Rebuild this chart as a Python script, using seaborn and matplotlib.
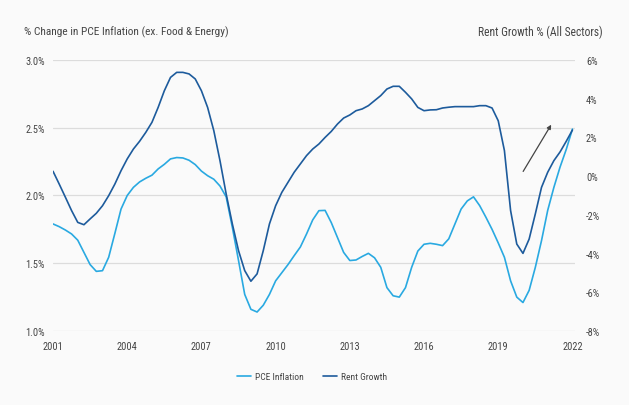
import seaborn as sns
import pandas as pd
import matplotlib.pyplot as plt

# quarterly readings taken off the chart
years = [2001.00, 2001.25, 2001.50, 2001.75, 2002.00, 2002.25, 2002.50, 2002.75,
         2003.00, 2003.25, 2003.50, 2003.75, 2004.00, 2004.25, 2004.50, 2004.75,
         2005.00, 2005.25, 2005.50, 2005.75, 2006.00, 2006.25, 2006.50, 2006.75,
         2007.00, 2007.25, 2007.50, 2007.75, 2008.00, 2008.25, 2008.50, 2008.75,
         2009.00, 2009.25, 2009.50, 2009.75, 2010.00, 2010.25, 2010.50, 2010.75,
         2011.00, 2011.25, 2011.50, 2011.75, 2012.00, 2012.25, 2012.50, 2012.75,
         2013.00, 2013.25, 2013.50, 2013.75, 2014.00, 2014.25, 2014.50, 2014.75,
         2015.00, 2015.25, 2015.50, 2015.75, 2016.00, 2016.25, 2016.50, 2016.75,
         2017.00, 2017.25, 2017.50, 2017.75, 2018.00, 2018.25, 2018.50, 2018.75,
         2019.00, 2019.25, 2019.50, 2019.75, 2020.00, 2020.25, 2020.50, 2020.75,
         2021.00, 2021.25, 2021.50, 2021.75, 2022.00]
pce = [1.79, 1.77, 1.745, 1.716, 1.67, 1.58, 1.49, 1.44,
       1.445, 1.544, 1.72, 1.90, 2.00, 2.06, 2.10, 2.127,
       2.15, 2.196, 2.23, 2.27, 2.28, 2.277, 2.26, 2.228,
       2.18, 2.146, 2.12, 2.07, 1.99, 1.765, 1.52, 1.27,
       1.16, 1.14, 1.19, 1.27, 1.37, 1.43, 1.49, 1.556,
       1.62, 1.716, 1.82, 1.888, 1.89, 1.80, 1.69, 1.58,
       1.52, 1.524, 1.55, 1.573, 1.54, 1.47, 1.32, 1.26,
       1.25, 1.32, 1.47, 1.59, 1.64, 1.647, 1.64, 1.63,
       1.68, 1.79, 1.90, 1.96, 1.99, 1.925, 1.84, 1.75,
       1.65, 1.544, 1.37, 1.25, 1.21, 1.30, 1.47, 1.667,
       1.89, 2.06, 2.21, 2.34, 2.49]
rent = [0.25, -0.41, -1.09, -1.78, -2.39, -2.51, -2.21, -1.92,
        -1.53, -1.01, -0.41, 0.28, 0.89, 1.40, 1.80, 2.26,
        2.78, 3.55, 4.41, 5.10, 5.36, 5.36, 5.28, 5.02,
        4.41, 3.55, 2.35, 0.80, -0.92, -2.47, -3.85, -4.88,
        -5.43, -5.05, -3.85, -2.47, -1.53, -0.84, -0.32, 0.20,
        0.63, 1.06, 1.40, 1.66, 2.00, 2.31, 2.69, 3.00,
        3.16, 3.38, 3.47, 3.64, 3.90, 4.16, 4.50, 4.64,
        4.64, 4.33, 3.99, 3.55, 3.38, 3.42, 3.43, 3.52,
        3.56, 3.59, 3.59, 3.59, 3.59, 3.64, 3.64, 3.52,
        2.86, 1.32, -1.78, -3.51, -3.99, -3.25, -1.95, -0.58,
        0.20, 0.80, 1.25, 1.80, 2.38]

left_ticks = [1.0, 1.5, 2.0, 2.5, 3.0]
right_ticks = [-8, -6, -4, -2, 0, 2, 4, 6]
year_ticks = [2001, 2004, 2007, 2010, 2013, 2016, 2019, 2022]

df = pd.DataFrame({"Year": years, "PCE": pce, "Rent": rent})

sns.set_theme(style="white")
plt.rcParams['font.family'] = ['Roboto Condensed', 'Roboto', 'DejaVu Sans']
bg = "#fafafa"
txt = "#454545"
light = "#29a9e1"
dark = "#1d5b9c"

fig = plt.figure(figsize=(6.29, 4.06), dpi=100, facecolor=bg)
ax = fig.add_axes([0.0843, 0.1823, 0.8297, 0.6675])
ax.set_facecolor(bg)
ax2 = ax.twinx()

sns.lineplot(data=df, x="Year", y="PCE", ax=ax, color=light, linewidth=1.2,
             label="PCE Inflation", legend=False)
sns.lineplot(data=df, x="Year", y="Rent", ax=ax2, color=dark, linewidth=1.2,
             label="Rent Growth", legend=False)
for a in (ax, ax2):
    for ln in a.get_lines():
        ln.set_solid_joinstyle("round")

ax.set_xlim(2001, 2022.1)
ax.set_ylim(1.0, 3.0)
ax2.set_ylim(-8, 6)
ax.set_yticks(left_ticks)
ax.set_yticklabels([f"{v:.1f}%" for v in left_ticks])
ax2.set_yticks(right_ticks)
ax2.set_yticklabels([f"{v}%" for v in right_ticks])
ax.set_xticks(year_ticks)
ax.set_xticklabels([str(y) for y in year_ticks])

ax.grid(axis="y", color="#dcdcdc", linewidth=0.9)
ax.grid(axis="x", visible=False)
ax2.grid(False)
for a in (ax, ax2):
    for s in a.spines.values():
        s.set_visible(False)
    a.set_xlabel("")
    a.set_ylabel("")
    a.tick_params(length=0, labelsize=7.5, colors=txt)
ax.tick_params(axis="y", pad=6)
ax2.tick_params(axis="y", pad=8)
ax.tick_params(axis="x", pad=7)

ax.annotate("", xy=(2021.2, 2.54), xytext=(2019.95, 2.16),
            arrowprops=dict(arrowstyle="-|>", color="#444444", lw=0.9, mutation_scale=6))

fig.text(24 / 629, 1 - 32 / 406, "% Change in PCE Inflation (ex. Food & Energy)",
         fontsize=8.2, color=txt, va="center", ha="left")
fig.text(603 / 629, 1 - 32 / 406, "Rent Growth % (All Sectors)",
         fontsize=8.3, color=txt, va="center", ha="right")

h1, l1 = ax.get_legend_handles_labels()
h2, l2 = ax2.get_legend_handles_labels()
fig.legend(h1 + h2, l1 + l2, loc="center", bbox_to_anchor=(312 / 629, 1 - 378 / 406),
           ncol=2, frameon=False, fontsize=6.8, handlelength=1.5, handletextpad=0.4,
           columnspacing=2.0, labelcolor=txt)

fig.savefig("out.png", dpi=100, facecolor=bg)
